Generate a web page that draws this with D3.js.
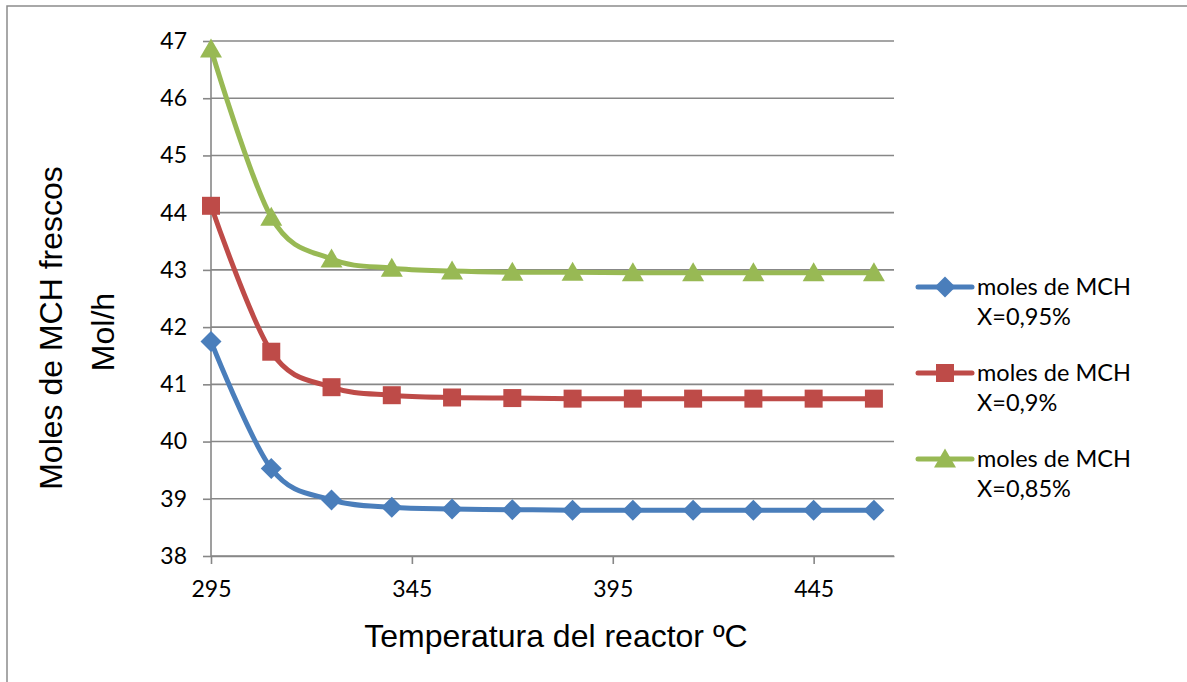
<!DOCTYPE html>
<html>
<head>
<meta charset="utf-8">
<script src="https://cdn.jsdelivr.net/npm/d3@7"></script>
<style>
  body { margin: 0; background: #fff; }
  .tick text { font-family: Lato, "Open Sans", sans-serif; font-size: 23px; fill: #000; }
  .title { font-family: "Liberation Sans", Arial, sans-serif; font-size: 32px; fill: #000; }
  .legend text { font-family: Lato, "Open Sans", sans-serif; font-size: 23.5px; fill: #000; }
</style>
</head>
<body>
<div id="chart"></div>
<script>
// temperatures (x) and moles of fresh MCH (y) for each conversion
var temps = [295, 310, 325, 340, 355, 370, 385, 400, 415, 430, 445, 460];
var moles095 = [41.75, 39.53, 38.98, 38.85, 38.82, 38.81, 38.80, 38.80, 38.80, 38.80, 38.80, 38.80];
var moles090 = [44.12, 41.57, 40.95, 40.81, 40.77, 40.76, 40.75, 40.75, 40.75, 40.75, 40.75, 40.75];
var moles085 = [46.86, 43.92, 43.19, 43.03, 42.98, 42.96, 42.96, 42.95, 42.95, 42.95, 42.95, 42.95];
var xTicks = [295, 345, 395, 445];
var yTicks = [38, 39, 40, 41, 42, 43, 44, 45, 46, 47];
var seriesNames = [["moles de MCH", "X=0,95%"], ["moles de MCH", "X=0,9%"], ["moles de MCH", "X=0,85%"]];

var width = 1187, height = 682;
var margin = { top: 41, right: 293, bottom: 126, left: 211 };
var innerWidth = width - margin.left - margin.right,
    innerHeight = height - margin.top - margin.bottom;

var series = [
  { values: moles095, color: "#4A7EBB", symbol: "diamond", label: seriesNames[0] },
  { values: moles090, color: "#BE4B48", symbol: "square", label: seriesNames[1] },
  { values: moles085, color: "#98B954", symbol: "triangle", label: seriesNames[2] }
];

var svg = d3.select("#chart").append("svg")
    .attr("width", width)
    .attr("height", height);

svg.append("rect").attr("width", width).attr("height", height).attr("fill", "#fff");

// outer chart border, only left and top edges are visible in the original
svg.append("path")
    .attr("d", "M7," + height + "V6H" + width)
    .attr("fill", "none")
    .attr("stroke", "#8c8c8c")
    .attr("stroke-width", 1.5);

var g = svg.append("g")
    .attr("transform", "translate(" + margin.left + "," + margin.top + ")");

var xScale = d3.scaleLinear().domain([295, 465]).range([0, innerWidth]);
var yScale = d3.scaleLinear().domain([38, 47]).range([innerHeight, 0]);

// horizontal gridlines
g.append("g").selectAll("line")
    .data(yTicks)
    .enter().append("line")
    .attr("x1", 0).attr("x2", innerWidth)
    .attr("y1", function (d) { return yScale(d); })
    .attr("y2", function (d) { return yScale(d); })
    .attr("stroke", "#878787")
    .attr("stroke-width", 1.6);

var yAxis = g.append("g")
    .call(d3.axisLeft(yScale).tickValues(yTicks).tickSize(8).tickPadding(16).tickFormat(d3.format("d")));

var xAxis = g.append("g")
    .attr("transform", "translate(0," + innerHeight + ")")
    .call(d3.axisBottom(xScale).tickValues(xTicks).tickSize(8).tickPadding(17).tickSizeOuter(0).tickFormat(d3.format("d")));

[yAxis, xAxis].forEach(function (ax) {
  ax.attr("font-size", null).attr("font-family", null);
  ax.select(".domain").attr("stroke", "#878787").attr("stroke-width", 1.6);
  ax.selectAll(".tick line").attr("stroke", "#878787").attr("stroke-width", 1.6);
});
yAxis.select(".domain").attr("d", "M0," + innerHeight + "V0");

var line = d3.line()
    .x(function (d, i) { return xScale(temps[i]); })
    .y(function (d) { return yScale(d); })
    .curve(d3.curveCatmullRom.alpha(0));

var symbols = {
  diamond: function (s) { return "M0," + (-s) + "L" + s + ",0L0," + s + "L" + (-s) + ",0Z"; },
  square: function (s) { return "M" + (-s) + "," + (-s) + "H" + s + "V" + s + "H" + (-s) + "Z"; },
  triangle: function (s) { return "M0," + (-s * 1.05) + "L" + (s * 1.1) + "," + (s * 0.85) + "H" + (-s * 1.1) + "Z"; }
};
var symbolSize = { diamond: 10.5, square: 9, triangle: 10 };

series.forEach(function (s) {
  var sg = g.append("g");
  sg.append("path")
      .datum(s.values)
      .attr("d", line)
      .attr("fill", "none")
      .attr("stroke", s.color)
      .attr("stroke-width", 5);

  sg.selectAll("path.marker")
      .data(s.values)
      .enter().append("path")
      .attr("class", "marker")
      .attr("transform", function (d, i) { return "translate(" + xScale(temps[i]) + "," + yScale(d) + ")"; })
      .attr("d", symbols[s.symbol](symbolSize[s.symbol]))
      .attr("fill", s.color);
});

// axis titles
svg.append("text")
    .attr("class", "title")
    .attr("x", 556).attr("y", 647)
    .attr("text-anchor", "middle")
    .text("Temperatura del reactor ºC");

svg.append("text")
    .attr("class", "title")
    .attr("transform", "translate(62,328) rotate(-90)")
    .attr("text-anchor", "middle")
    .text("Moles de MCH frescos");

svg.append("text")
    .attr("class", "title")
    .attr("transform", "translate(114,332) rotate(-90)")
    .attr("text-anchor", "middle")
    .text("Mol/h");

// legend
var legend = svg.append("g").attr("class", "legend");
series.forEach(function (s, i) {
  var ly = 287 + i * 86;
  var lg = legend.append("g").attr("transform", "translate(0," + ly + ")");
  lg.append("line")
      .attr("x1", 918).attr("x2", 972)
      .attr("y1", 0).attr("y2", 0)
      .attr("stroke", s.color)
      .attr("stroke-width", 5)
      .attr("stroke-linecap", "round");
  lg.append("path")
      .attr("transform", "translate(945,0)")
      .attr("d", symbols[s.symbol](symbolSize[s.symbol]))
      .attr("fill", s.color);
  lg.append("text").attr("x", 977).attr("y", 8).text(s.label[0]);
  lg.append("text").attr("x", 977).attr("y", 38).text(s.label[1]);
});
</script>
</body>
</html>
